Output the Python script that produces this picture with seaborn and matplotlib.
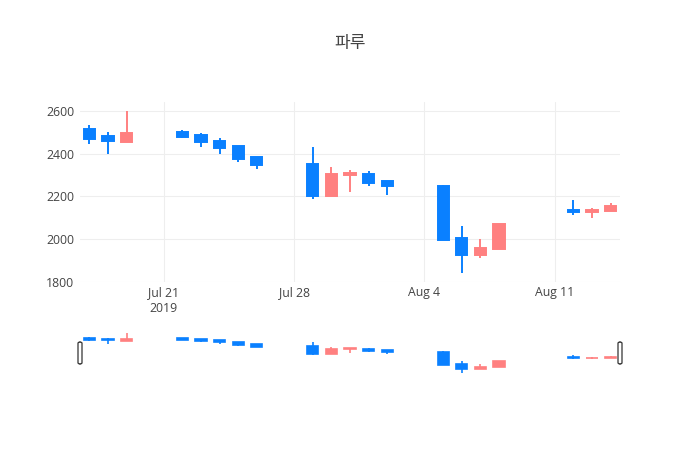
import numpy as np
import pandas as pd
import matplotlib
matplotlib.use("Agg")
import matplotlib.pyplot as plt
import matplotlib.dates as mdates
from matplotlib.patches import FancyBboxPatch
import seaborn as sns

dates = ["2019-07-17", "2019-07-18", "2019-07-19", "2019-07-22", "2019-07-23",
         "2019-07-24", "2019-07-25", "2019-07-26", "2019-07-29", "2019-07-30",
         "2019-07-31", "2019-08-01", "2019-08-02", "2019-08-05", "2019-08-06",
         "2019-08-07", "2019-08-08", "2019-08-12", "2019-08-13", "2019-08-14"]
open_ = [2515, 2480, 2455, 2500, 2485, 2460, 2435, 2385, 2350, 2200,
         2300, 2305, 2270, 2250, 2005, 1925, 1955, 2138, 2127, 2133]
high = [2535, 2500, 2600, 2510, 2495, 2475, 2435, 2385, 2430, 2335,
        2325, 2320, 2270, 2252, 2060, 2003, 2070, 2185, 2148, 2171]
low = [2445, 2400, 2455, 2475, 2430, 2400, 2360, 2330, 2190, 2200,
       2220, 2250, 2205, 1995, 1840, 1910, 1955, 2112, 2100, 2133]
close = [2470, 2460, 2495, 2478, 2455, 2425, 2375, 2345, 2200, 2305,
         2308, 2262, 2250, 1997, 1925, 1960, 2070, 2125, 2135, 2153]

title = "파루"
xtick_dates = ["2019-07-21", "2019-07-28", "2019-08-04", "2019-08-11"]
xtick_labels = ["Jul 21\n2019", "Jul 28", "Aug 4", "Aug 11"]
yticks = [1800, 2000, 2200, 2400, 2600]

UP = "#ff8080"
DOWN = "#0a80ff"

df = pd.DataFrame({"date": pd.to_datetime(dates), "open": open_, "high": high,
                   "low": low, "close": close})
df["x"] = mdates.date2num(df["date"])
df["up"] = df["close"] >= df["open"]
df["color"] = np.where(df["up"], UP, DOWN)
df["bottom"] = df[["open", "close"]].min(axis=1)
df["height"] = (df["close"] - df["open"]).abs()

sns.set_style("white")
plt.rcParams["font.family"] = ["Open Sans", "Noto Sans CJK KR", "DejaVu Sans"]

fig = plt.figure(figsize=(7, 4.5), dpi=100)
W, H = 700, 450

def fax(l, t, r, b):
    return fig.add_axes([l / W, 1 - b / H, (r - l) / W, (b - t) / H])

ax = fax(80, 102, 620, 282)
sl = fax(80, 331, 620, 375)

xmin = mdates.date2num(pd.Timestamp("2019-07-16 12:00"))
xmax = mdates.date2num(pd.Timestamp("2019-08-14 12:00"))
ylo, yhi = 1802, 2641

def draw(a, lw):
    a.vlines(df["x"], df["low"], df["high"], colors=df["color"], linewidth=lw, zorder=2)
    a.bar(df["x"], df["height"], bottom=df["bottom"], width=0.6, color=df["color"],
          edgecolor=df["color"], linewidth=lw, zorder=3)
    a.set_xlim(xmin, xmax)
    a.set_ylim(ylo, yhi)

draw(ax, 1.4)
draw(sl, 1.2)

ax.set_yticks(yticks)
ax.set_yticklabels([str(v) for v in yticks])
ax.set_xticks(mdates.date2num(pd.to_datetime(xtick_dates)))
ax.set_xticklabels(xtick_labels, linespacing=1.25)
ax.tick_params(axis="both", length=0, labelsize=8.8, colors="#444444")
ax.tick_params(axis="x", pad=3)
ax.tick_params(axis="y", pad=4)
ax.grid(True, color="#eeeeee", linewidth=0.8, zorder=0)
ax.set_axisbelow(True)
for s in ax.spines.values():
    s.set_visible(False)

sl.set_xticks([])
sl.set_yticks([])
for s in sl.spines.values():
    s.set_visible(False)

for hx in (80, 620):
    p = FancyBboxPatch(((hx - 2) / W, 1 - 364 / H), 4 / W, 22 / H,
                       boxstyle="round,pad=0,rounding_size=0.003",
                       transform=fig.transFigure, facecolor="white",
                       edgecolor="#333333", linewidth=0.9, zorder=10)
    fig.patches.append(p)

fig.text(350 / W, 1 - 43 / H, title, ha="center", va="center", fontsize=12.3,
         color="#444444", family=["Noto Sans CJK KR", "DejaVu Sans"])

fig.savefig("out.png", dpi=100, facecolor="white")
